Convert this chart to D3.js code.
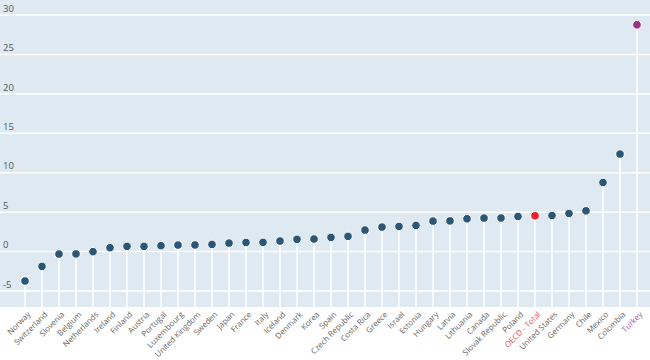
<!DOCTYPE html>
<html><head><meta charset="utf-8">
<script src="https://cdn.jsdelivr.net/npm/d3@7"></script>
<style>body{margin:0;background:#fff}svg{display:block}</style>
</head><body>
<svg id="c" width="650" height="360"></svg>
<script>
const countries = ["Norway","Switzerland","Slovenia","Belgium","Netherlands","Ireland","Finland","Austria","Portugal","Luxembourg","United Kingdom","Sweden","Japan","France","Italy","Iceland","Denmark","Korea","Spain","Czech Republic","Costa Rica","Greece","Israel","Estonia","Hungary","Latvia","Lithuania","Canada","Slovak Republic","Poland","OECD - Total","United States","Germany","Chile","Mexico","Colombia","Turkey"];
const values = [-3.8,-1.95,-0.38,-0.36,-0.08,0.42,0.59,0.59,0.68,0.76,0.77,0.84,1.01,1.09,1.1,1.27,1.48,1.52,1.73,1.86,2.66,3.04,3.12,3.25,3.8,3.82,4.09,4.18,4.19,4.39,4.47,4.51,4.77,5.1,8.7,12.3,28.7];
const yTicks = [-5,0,5,10,15,20,25,30];
const yTickLabels = ["-5","0","5","10","15","20","25","30"];
const highlight = {"OECD - Total":{dot:"#e8202a",label:"#e8505a"},"Turkey":{dot:"#993189",label:"#a05a9a"}};

const svg = d3.select("#c");
const W = 650, plotBottom = 307;
const x = d3.scaleBand().domain(countries).range([16.5, 645.5]);
const y = d3.scaleLinear().domain([-7.1, 31.85]).range([plotBottom, 0]);

svg.append("rect").attr("x",0).attr("y",0).attr("width",W).attr("height",plotBottom).attr("fill","#dee9f1");

const yAxis = d3.axisLeft(y).tickValues(yTicks).tickSize(-W).tickFormat((d,i)=>yTickLabels[i]);
const ga = svg.append("g").call(yAxis);
ga.select(".domain").remove();
ga.selectAll(".tick line").attr("stroke","#ffffff").attr("stroke-width",1.5);
ga.selectAll(".tick text").attr("x",3).attr("dy","-0.35em").attr("text-anchor","start")
  .attr("fill","#555").style("font-family","'Open Sans', sans-serif").style("font-size","9.5px");

const data = countries.map((c,i)=>({c, v: values[i]}));
const cx = d => x(d.c) + x.bandwidth()/2;

svg.append("g").selectAll("line").data(data).join("line")
  .attr("x1",cx).attr("x2",cx).attr("y1",d=>y(d.v)).attr("y2",plotBottom)
  .attr("stroke","#ffffff").attr("stroke-width",1.5);

svg.append("g").selectAll("circle").data(data).join("circle")
  .attr("cx",cx).attr("cy",d=>y(d.v)).attr("r",4.3)
  .attr("fill",d=>highlight[d.c]?highlight[d.c].dot:"#2c5676")
  .attr("stroke","#ffffff").attr("stroke-width",1);

const xAxis = d3.axisBottom(x).tickSize(0);
const gx = svg.append("g").attr("transform",`translate(0,${plotBottom})`).call(xAxis);
gx.select(".domain").remove();
gx.selectAll(".tick text")
  .attr("transform","translate(4,6) rotate(-45)")
  .attr("x",0).attr("y",0).attr("dy","0.35em")
  .attr("text-anchor","end")
  .attr("fill",d=>highlight[d]?highlight[d].label:"#6a6460")
  .style("font-family","'Open Sans', sans-serif").style("font-size","8px");
</script>
</body></html>
